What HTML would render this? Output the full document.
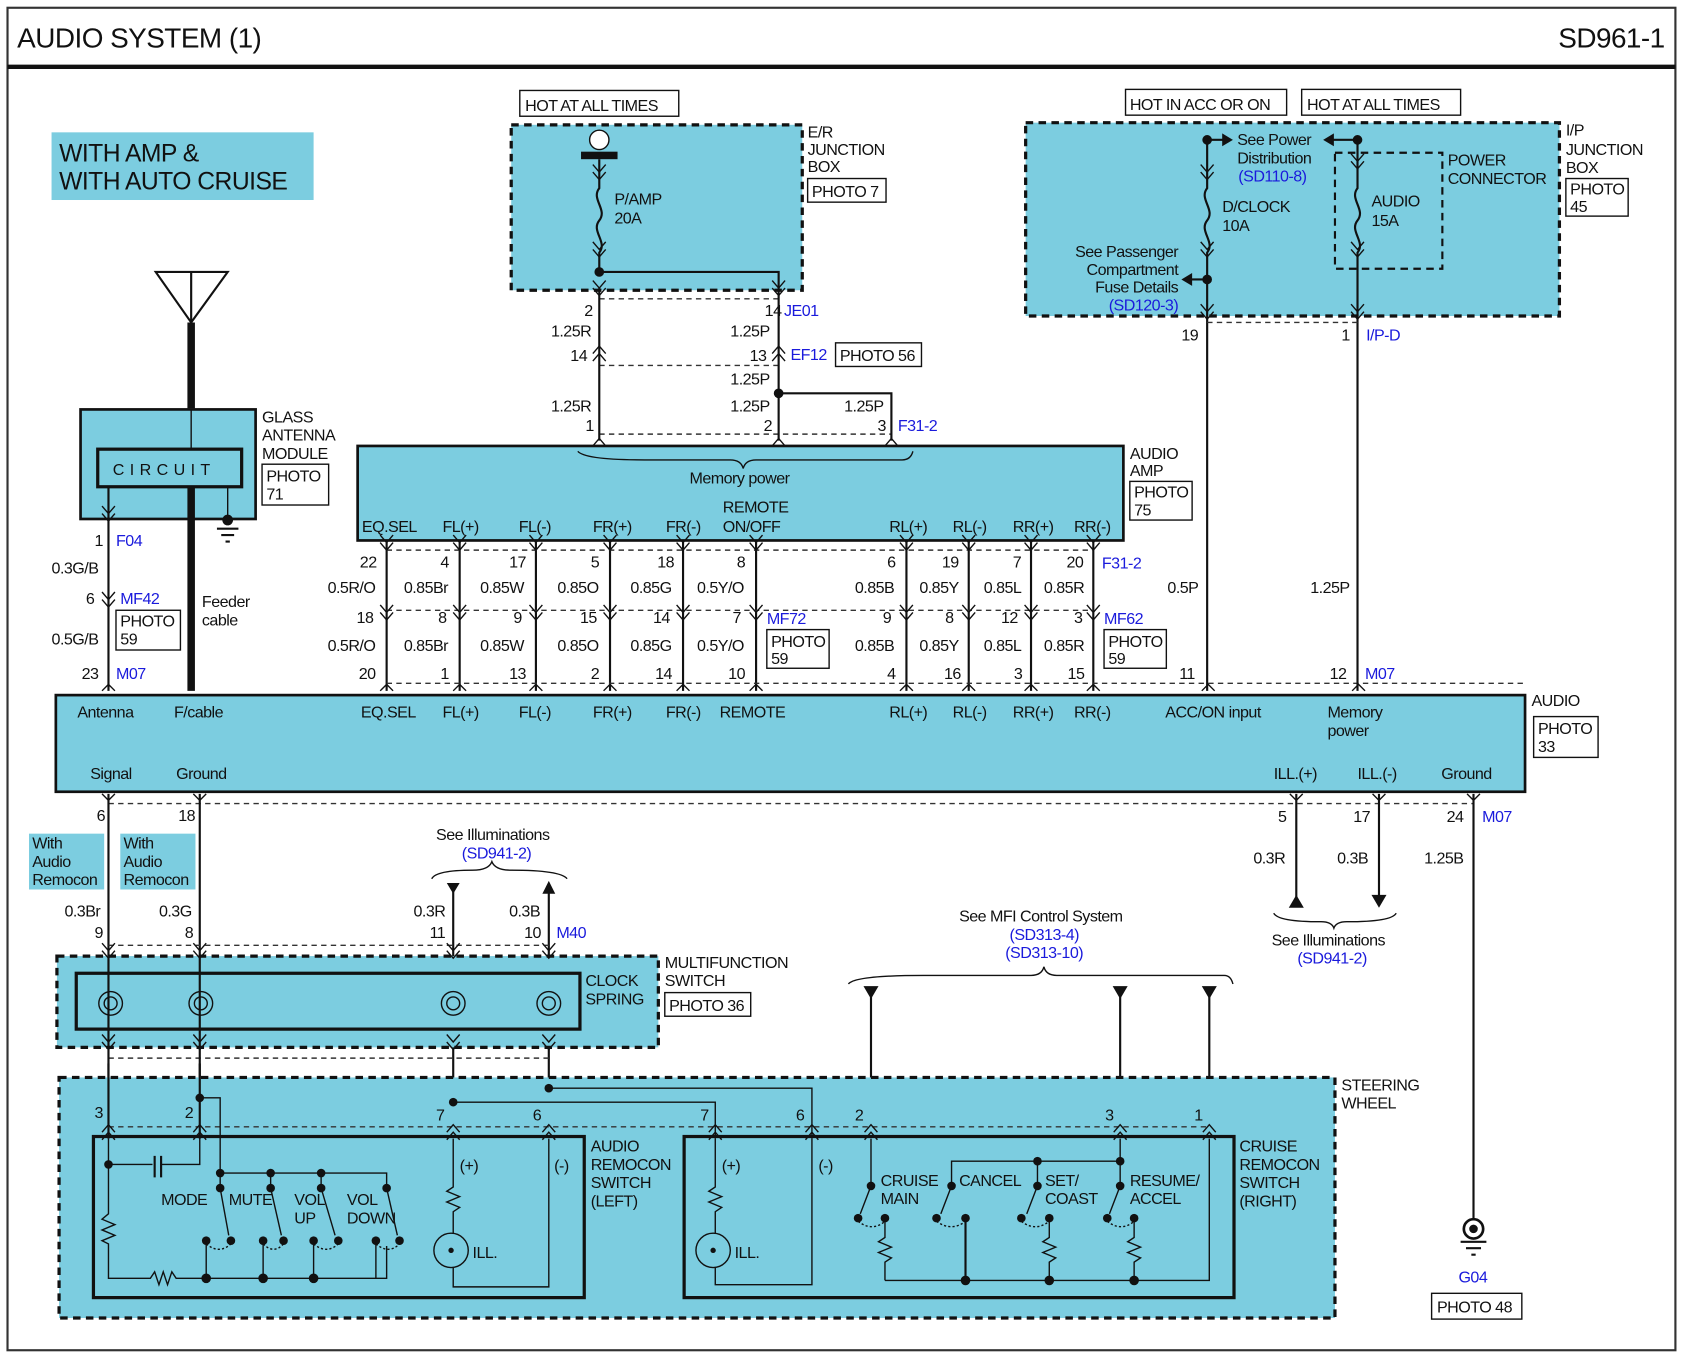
<!DOCTYPE html>
<html><head><meta charset="utf-8"><style>
html,body{margin:0;padding:0;background:#fff}
svg{display:block}
text{font-family:"Liberation Sans",sans-serif;font-size:15px;fill:#111;letter-spacing:-0.5px}
.b{fill:#1a1adc}
.w{stroke:#111;stroke-width:2;fill:none}
.t{stroke:#111;stroke-width:1.3;fill:none}
.d{stroke:#333;stroke-width:1.3;fill:none;stroke-dasharray:5 4}
.bx{fill:#7ccde0;stroke:#111;stroke-width:3;stroke-dasharray:7 5}
.sb{fill:#7ccde0;stroke:#111;stroke-width:2.5}
.pb{fill:#fff;stroke:#111;stroke-width:1.3}
</style></head><body>
<svg width="1684" height="1358" viewBox="0 0 1568 1264" xmlns="http://www.w3.org/2000/svg">
<defs>
<path id="cd" d="M-6 -7 L0 0 L6 -7 M-6 0 L0 7 L6 0" stroke="#111" stroke-width="1.3" fill="none"/>
<path id="cu" d="M-6 7 L0 0 L6 7 M-6 14 L0 7 L6 14" stroke="#111" stroke-width="1.3" fill="none"/>
</defs>
<rect x="7" y="7" width="1553" height="1250" fill="none" stroke="#333" stroke-width="2"/>
<text x="16" y="44" style="font-size:26px">AUDIO SYSTEM (1)</text>
<text x="1550" y="44" text-anchor="end" style="font-size:26px">SD961-1</text>
<line x1="7" y1="62" x2="1560" y2="62" stroke="#111" stroke-width="4"/>
<rect x="48" y="123" width="244" height="63" fill="#7ccde0"/>
<text x="55" y="150" style="font-size:23px">WITH AMP &amp;</text>
<text x="55" y="176" style="font-size:23px">WITH AUTO CRUISE</text>

<!-- antenna -->
<path d="M145 253 H212 L178 300 Z M178 253 V300" class="w" stroke-width="3"/>
<line x1="178" y1="300" x2="178" y2="380" stroke="#111" stroke-width="7"/>
<rect x="75" y="381" width="163" height="102" class="sb"/>
<rect x="91" y="418" width="134" height="35" fill="none" stroke="#111" stroke-width="3"/>
<text x="105" y="442" style="letter-spacing:5px">CIRCUIT</text>
<line x1="178" y1="381" x2="178" y2="418" class="t"/>
<line x1="101" y1="453" x2="101" y2="643" class="w"/>
<line x1="178" y1="453" x2="178" y2="643" stroke="#111" stroke-width="7"/>
<line x1="212" y1="453" x2="212" y2="480" class="t"/>
<circle cx="212" cy="484" r="5" fill="#111"/><path d="M202 492 H222 M206 498 H218 M210 504 H214" class="w"/>
<use href="#cd" x="101" y="478"/>
<text x="244" y="393">GLASS</text><text x="244" y="410">ANTENNA</text><text x="244" y="427">MODULE</text>
<rect x="244" y="432" width="62" height="38" class="pb"/><text x="248" y="448">PHOTO</text><text x="248" y="465">71</text>
<text x="88" y="508">1</text><text x="108" y="508" class="b">F04</text>
<text x="48" y="534">0.3G/B</text>
<use href="#cd" x="101" y="558"/>
<text x="80" y="562">6</text><text x="112" y="562" class="b">MF42</text>
<rect x="108" y="568" width="60" height="37" class="pb"/><text x="112" y="583">PHOTO</text><text x="112" y="600">59</text>
<text x="48" y="600">0.5G/B</text>
<text x="188" y="565">Feeder</text><text x="188" y="582">cable</text>
<text x="76" y="632">23</text><text x="108" y="632" class="b">M07</text>
<path d="M95 643 L101 637 L107 643" class="t"/>

<!-- E/R junction box -->
<rect x="484" y="84" width="148" height="24" class="pb"/><text x="489" y="103">HOT AT ALL TIMES</text>
<rect x="476" y="116" width="271" height="154" class="bx"/>
<circle cx="558" cy="130" r="9" fill="#fff" stroke="#111" stroke-width="1.3"/>
<rect x="541" y="141" width="34" height="7" fill="#111"/>
<path d="M558 148 V175 C550 185 566 195 558 205 C550 215 566 225 558 235 V253 H725 V268" class="w"/>
<use href="#cd" x="558" y="160"/><use href="#cd" x="558" y="232"/>
<circle cx="558" cy="253" r="4.5" fill="#111"/>
<text x="572" y="190">P/AMP</text><text x="572" y="208">20A</text>
<text x="752" y="128">E/R</text><text x="752" y="144">JUNCTION</text><text x="752" y="160">BOX</text>
<rect x="752" y="166" width="73" height="22" class="pb"/><text x="756" y="183">PHOTO 7</text>
<use href="#cd" x="558" y="268"/><use href="#cd" x="725" y="268"/>
<path d="M558 278 H725 M558 340 H725 M558 404 H830" class="d"/>
<line x1="558" y1="268" x2="558" y2="410" class="w"/>
<line x1="725" y1="268" x2="725" y2="410" class="w"/>
<path d="M725 366 H830 V410" class="w"/><circle cx="725" cy="366" r="4.5" fill="#111"/>
<text x="544" y="294">2</text><text x="712" y="294">14</text><text x="730" y="294" class="b">JE01</text>
<text x="513" y="313">1.25R</text><text x="680" y="313">1.25P</text>
<use href="#cu" x="558" y="322"/><use href="#cu" x="725" y="322"/>
<text x="531" y="336">14</text><text x="698" y="336">13</text><text x="736" y="335" class="b">EF12</text>
<rect x="778" y="319" width="80" height="22" class="pb"/><text x="782" y="336">PHOTO 56</text>
<text x="680" y="358">1.25P</text>
<text x="513" y="383">1.25R</text><text x="680" y="383">1.25P</text><text x="786" y="383">1.25P</text>
<text x="545" y="401">1</text><text x="711" y="401">2</text><text x="817" y="401">3</text><text x="836" y="401" class="b">F31-2</text>
<path d="M552 415 L558 408 L564 415 M719 415 L725 408 L731 415 M824 415 L830 408 L836 415" class="t"/>

<!-- Audio amp -->
<rect x="333" y="415" width="713" height="88" class="sb"/>
<path d="M538 420 Q545 428 600 428 H680 Q690 428 692 436 Q694 428 704 428 H840 Q848 428 850 420" class="t"/>
<text x="642" y="450">Memory power</text>
<text x="1052" y="427">AUDIO</text><text x="1052" y="443">AMP</text>
<rect x="1052" y="448" width="58" height="36" class="pb"/><text x="1056" y="463">PHOTO</text><text x="1056" y="480">75</text>
<text x="337" y="495">EQ.SEL</text><text x="412" y="495">FL(+)</text><text x="483" y="495">FL(-)</text>
<text x="552" y="495">FR(+)</text><text x="620" y="495">FR(-)</text>
<text x="673" y="477">REMOTE</text><text x="673" y="495">ON/OFF</text>
<text x="828" y="495">RL(+)</text><text x="887" y="495">RL(-)</text><text x="943" y="495">RR(+)</text><text x="1000" y="495">RR(-)</text>

<!-- amp->audio wires -->
<g class="w">
<path d="M360 503V643M428 503V643M499 503V643M568 503V643M636 503V643M704 503V643M844 503V643M902 503V643M960 503V643M1018 503V643"/>
</g>
<path d="M360 512 H1018 M360 568 H1018 M360 636 H1420" class="d"/>
<g>
<use href="#cd" x="360" y="505"/><use href="#cd" x="428" y="505"/><use href="#cd" x="499" y="505"/><use href="#cd" x="568" y="505"/><use href="#cd" x="636" y="505"/><use href="#cd" x="704" y="505"/><use href="#cd" x="844" y="505"/><use href="#cd" x="902" y="505"/><use href="#cd" x="960" y="505"/><use href="#cd" x="1018" y="505"/>
<use href="#cd" x="360" y="570"/><use href="#cd" x="428" y="570"/><use href="#cd" x="499" y="570"/><use href="#cd" x="568" y="570"/><use href="#cd" x="636" y="570"/><use href="#cd" x="704" y="570"/><use href="#cd" x="844" y="570"/><use href="#cd" x="902" y="570"/><use href="#cd" x="960" y="570"/><use href="#cd" x="1018" y="570"/>
</g>
<text x="335" y="528">22</text><text x="410" y="528">4</text><text x="474" y="528">17</text><text x="550" y="528">5</text><text x="612" y="528">18</text><text x="686" y="528">8</text><text x="826" y="528">6</text><text x="877" y="528">19</text><text x="943" y="528">7</text><text x="993" y="528">20</text><text x="1026" y="529" class="b">F31-2</text>
<text x="305" y="552">0.5R/O</text><text x="376" y="552">0.85Br</text><text x="447" y="552">0.85W</text><text x="519" y="552">0.85O</text><text x="587" y="552">0.85G</text><text x="649" y="552">0.5Y/O</text><text x="796" y="552">0.85B</text><text x="856" y="552">0.85Y</text><text x="916" y="552">0.85L</text><text x="972" y="552">0.85R</text>
<text x="332" y="580">18</text><text x="408" y="580">8</text><text x="478" y="580">9</text><text x="540" y="580">15</text><text x="608" y="580">14</text><text x="682" y="580">7</text><text x="714" y="581" class="b">MF72</text><text x="822" y="580">9</text><text x="880" y="580">8</text><text x="932" y="580">12</text><text x="1000" y="580">3</text><text x="1028" y="581" class="b">MF62</text>
<rect x="714" y="586" width="58" height="36" class="pb"/><text x="718" y="602">PHOTO</text><text x="718" y="618">59</text>
<rect x="1028" y="586" width="58" height="36" class="pb"/><text x="1032" y="602">PHOTO</text><text x="1032" y="618">59</text>
<text x="305" y="606">0.5R/O</text><text x="376" y="606">0.85Br</text><text x="447" y="606">0.85W</text><text x="519" y="606">0.85O</text><text x="587" y="606">0.85G</text><text x="649" y="606">0.5Y/O</text><text x="796" y="606">0.85B</text><text x="856" y="606">0.85Y</text><text x="916" y="606">0.85L</text><text x="972" y="606">0.85R</text>
<text x="334" y="632">20</text><text x="410" y="632">1</text><text x="474" y="632">13</text><text x="550" y="632">2</text><text x="610" y="632">14</text><text x="678" y="632">10</text><text x="826" y="632">4</text><text x="879" y="632">16</text><text x="944" y="632">3</text><text x="994" y="632">15</text>
<text x="1098" y="632">11</text><text x="1238" y="632">12</text><text x="1271" y="632" class="b">M07</text>
<path d="M354 643L360 637L366 643M422 643L428 637L434 643M493 643L499 637L505 643M562 643L568 637L574 643M630 643L636 637L642 643M698 643L704 637L710 643M838 643L844 637L850 643M896 643L902 637L908 643M954 643L960 637L966 643M1012 643L1018 637L1024 643M1119 643L1125 637L1131 643M1259 643L1265 637L1271 643" class="t"/>

<!-- I/P junction box -->
<rect x="1048" y="83" width="150" height="24" class="pb"/><text x="1052" y="102">HOT IN ACC OR ON</text>
<rect x="1212" y="83" width="148" height="24" class="pb"/><text x="1217" y="102">HOT AT ALL TIMES</text>
<rect x="955" y="114" width="497" height="180" class="bx"/>
<rect x="1243" y="142" width="100" height="108" fill="none" stroke="#111" stroke-width="2" stroke-dasharray="7 5"/>
<path d="M1124 130 V175 C1116 185 1132 195 1124 205 C1116 215 1132 225 1124 235 V643" class="w"/>
<path d="M1264 130 V175 C1256 185 1272 195 1264 205 C1256 215 1272 225 1264 235 V643" class="w"/>
<circle cx="1124" cy="130" r="4.5" fill="#111"/><circle cx="1264" cy="130" r="4.5" fill="#111"/><circle cx="1124" cy="260" r="4.5" fill="#111"/>
<path d="M1124 130 H1140 M1264 130 H1240 M1124 260 H1108" class="w"/>
<path d="M1148 130 L1138 124 V136Z M1232 130 L1242 124 V136Z M1100 260 L1110 254 V266Z" fill="#111"/>
<use href="#cd" x="1124" y="160"/><use href="#cd" x="1124" y="232"/><use href="#cd" x="1264" y="150"/><use href="#cd" x="1264" y="232"/>
<use href="#cd" x="1124" y="290"/><use href="#cd" x="1264" y="290"/>
<path d="M1124 300 H1264" class="d"/>
<text x="1152" y="135">See Power</text><text x="1152" y="152">Distribution</text><text x="1153" y="169" class="b">(SD110-8)</text>
<text x="1138" y="197">D/CLOCK</text><text x="1138" y="215">10A</text>
<text x="1277" y="192">AUDIO</text><text x="1277" y="210">15A</text>
<text x="1348" y="154">POWER</text><text x="1348" y="171">CONNECTOR</text>
<text x="1458" y="126">I/P</text><text x="1458" y="144">JUNCTION</text><text x="1458" y="161">BOX</text>
<rect x="1458" y="166" width="58" height="35" class="pb"/><text x="1462" y="181">PHOTO</text><text x="1462" y="197">45</text>
<text x="1097" y="239" text-anchor="end">See Passenger</text><text x="1097" y="256" text-anchor="end">Compartment</text><text x="1097" y="272" text-anchor="end">Fuse Details</text><text x="1097" y="289" text-anchor="end" class="b">(SD120-3)</text>
<text x="1100" y="317">19</text><text x="1249" y="317">1</text><text x="1272" y="317" class="b">I/P-D</text>
<text x="1087" y="552">0.5P</text><text x="1220" y="552">1.25P</text>

<!-- Audio -->
<rect x="52" y="647" width="1368" height="90" class="sb"/>
<text x="72" y="668">Antenna</text><text x="162" y="668">F/cable</text><text x="336" y="668">EQ.SEL</text><text x="412" y="668">FL(+)</text><text x="483" y="668">FL(-)</text><text x="552" y="668">FR(+)</text><text x="620" y="668">FR(-)</text><text x="670" y="668">REMOTE</text><text x="828" y="668">RL(+)</text><text x="887" y="668">RL(-)</text><text x="943" y="668">RR(+)</text><text x="1000" y="668">RR(-)</text><text x="1085" y="668">ACC/ON input</text><text x="1236" y="668">Memory</text><text x="1236" y="685">power</text>
<text x="84" y="725">Signal</text><text x="164" y="725">Ground</text><text x="1186" y="725">ILL.(+)</text><text x="1264" y="725">ILL.(-)</text><text x="1342" y="725">Ground</text>
<text x="1426" y="657">AUDIO</text>
<rect x="1428" y="667" width="60" height="38" class="pb"/><text x="1432" y="683">PHOTO</text><text x="1432" y="700">33</text>
<path d="M95 739L101 745L107 739M180 739L186 745L192 739M1201 739L1207 745L1213 739M1278 739L1284 745L1290 739M1366 739L1372 745L1378 739" class="t"/>
<path d="M101 748 H1372" class="d"/>
<path d="M101 739 V890 M186 739 V890" class="w"/>
<text x="90" y="764">6</text><text x="166" y="764">18</text><text x="1190" y="765">5</text><text x="1260" y="765">17</text><text x="1347" y="765">24</text><text x="1380" y="765" class="b">M07</text>
<rect x="27" y="776" width="70" height="52" fill="#7ccde0"/><text x="30" y="790">With</text><text x="30" y="807">Audio</text><text x="30" y="824">Remocon</text>
<rect x="112" y="776" width="70" height="52" fill="#7ccde0"/><text x="115" y="790">With</text><text x="115" y="807">Audio</text><text x="115" y="824">Remocon</text>
<path d="M1207 739 V838 M1284 739 V838" class="w"/>
<path d="M1200 845 L1207 833 L1214 845Z M1277 833 L1284 845 L1291 833Z" fill="#111"/>
<text x="1167" y="804">0.3R</text><text x="1245" y="804">0.3B</text>
<path d="M1186 850 Q1190 858 1230 858 Q1240 858 1242 864 Q1244 858 1254 858 Q1296 858 1300 850" class="t"/>
<text x="1184" y="880">See Illuminations</text><text x="1208" y="897" class="b">(SD941-2)</text>
<path d="M1372 739 V1135" class="w"/>
<text x="1326" y="804">1.25B</text>
<circle cx="1372" cy="1144" r="9" fill="#fff" stroke="#111" stroke-width="2.5"/><circle cx="1372" cy="1144" r="4" fill="#111"/>
<path d="M1360 1156 H1384 M1365 1162 H1379 M1370 1168 H1374" class="w"/>
<text x="1358" y="1194" class="b">G04</text>
<rect x="1333" y="1204" width="84" height="24" class="pb"/><text x="1338" y="1222">PHOTO 48</text>

<!-- illum up-left -->
<text x="406" y="782">See Illuminations</text><text x="430" y="799" class="b">(SD941-2)</text>
<path d="M402 818 Q406 810 440 810 Q455 810 458 802 Q461 810 476 810 Q522 810 528 818" class="t"/>
<path d="M416 822 L422 832 L428 822Z M505 832 L511 820 L517 832Z" fill="#111"/>
<path d="M422 830 V1060 M511 830 V1060" class="w"/>
<text x="385" y="853">0.3R</text><text x="474" y="853">0.3B</text>
<text x="60" y="853">0.3Br</text><text x="148" y="853">0.3G</text>
<text x="88" y="873">9</text><text x="172" y="873">8</text><text x="400" y="873">11</text><text x="488" y="873">10</text><text x="518" y="873" class="b">M40</text>

<!-- multifunction -->
<rect x="53" y="890" width="560" height="85" class="bx"/>
<path d="M101 880 H511 M101 985 H511" class="d"/>
<rect x="71" y="906" width="469" height="52" fill="none" stroke="#111" stroke-width="3"/>
<g class="t">
<circle cx="103" cy="934" r="11"/><circle cx="103" cy="934" r="6"/>
<circle cx="187" cy="934" r="11"/><circle cx="187" cy="934" r="6"/>
<circle cx="422" cy="934" r="11"/><circle cx="422" cy="934" r="6"/>
<circle cx="511" cy="934" r="11"/><circle cx="511" cy="934" r="6"/>
</g>
<path d="M101 890 V1060 M186 890 V1060" class="w"/>
<use href="#cd" x="101" y="885"/><use href="#cd" x="186" y="885"/><use href="#cd" x="422" y="885"/><use href="#cd" x="511" y="885"/>
<use href="#cd" x="101" y="970"/><use href="#cd" x="186" y="970"/><use href="#cd" x="422" y="970"/><use href="#cd" x="511" y="970"/>
<text x="545" y="918">CLOCK</text><text x="545" y="935">SPRING</text>
<text x="619" y="901">MULTIFUNCTION</text><text x="619" y="918">SWITCH</text>
<rect x="619" y="924" width="80" height="22" class="pb"/><text x="623" y="941">PHOTO 36</text>

<!-- MFI -->
<text x="893" y="858">See MFI Control System</text><text x="940" y="875" class="b">(SD313-4)</text><text x="936" y="892" class="b">(SD313-10)</text>
<path d="M790 916 Q796 908 860 908 H960 Q970 908 972 900 Q974 908 984 908 H1140 Q1146 908 1148 916" class="t"/>
<path d="M804 918 L811 930 L818 918Z M1036 918 L1043 930 L1050 918Z M1119 918 L1126 930 L1133 918Z" fill="#111"/>
<path d="M811 928 V1060 M1043 928 V1060 M1126 928 V1060" class="w"/>

<!-- steering wheel -->
<rect x="55" y="1003" width="1188" height="224" class="bx"/>
<path d="M101 990 V1060 M186 990 V1060" class="w"/>
<text x="1249" y="1015">STEERING</text><text x="1249" y="1032">WHEEL</text>
<path d="M422 1026 H666 V1060 M511 1013 H756 V1060" class="t"/>
<circle cx="422" cy="1026" r="4" fill="#111"/><circle cx="511" cy="1013" r="4" fill="#111"/>
<path d="M101 1049 H1126" class="d"/>
<text x="88" y="1041">3</text><text x="172" y="1041">2</text><text x="406" y="1043">7</text><text x="496" y="1043">6</text><text x="652" y="1043">7</text><text x="741" y="1043">6</text><text x="796" y="1043">2</text><text x="1029" y="1043">3</text><text x="1112" y="1043">1</text>
<g><use href="#cu" x="101" y="1047"/><use href="#cu" x="186" y="1047"/><use href="#cu" x="422" y="1047"/><use href="#cu" x="511" y="1047"/><use href="#cu" x="666" y="1047"/><use href="#cu" x="756" y="1047"/><use href="#cu" x="811" y="1047"/><use href="#cu" x="1043" y="1047"/><use href="#cu" x="1126" y="1047"/></g>

<!-- audio remocon left -->
<rect x="87" y="1058" width="457" height="150" fill="none" stroke="#111" stroke-width="3"/>
<path d="M186 1022 V1084 H150 M142 1084 H103 M101 1060 V1130 L95 1135 L107 1140 L95 1145 L107 1150 L95 1155 L101 1158 V1190 H140 L144 1184 L148 1196 L152 1184 L156 1196 L160 1184 L164 1190 H360 V1160 M186 1022 H205 V1092" class="t"/>
<path d="M144 1076 V1096 M150 1076 V1096" class="w"/>
<circle cx="101" cy="1084" r="4" fill="#111"/><circle cx="186" cy="1022" r="4" fill="#111"/>
<path d="M205 1092 H360 V1106 M205 1092 V1106 M252 1092 V1106 M299 1092 V1106" class="t"/>
<g fill="#111"><circle cx="205" cy="1092" r="4"/><circle cx="252" cy="1092" r="4"/><circle cx="299" cy="1092" r="4"/><circle cx="360" cy="1106" r="4"/>
<circle cx="205" cy="1106" r="4"/><circle cx="252" cy="1106" r="4"/><circle cx="299" cy="1106" r="4"/>
<circle cx="192" cy="1155" r="4"/><circle cx="215" cy="1155" r="4"/><circle cx="245" cy="1155" r="4"/><circle cx="264" cy="1155" r="4"/><circle cx="292" cy="1155" r="4"/><circle cx="315" cy="1155" r="4"/><circle cx="350" cy="1155" r="4"/><circle cx="372" cy="1155" r="4"/>
<circle cx="192" cy="1190" r="4.5"/><circle cx="245" cy="1190" r="4.5"/><circle cx="292" cy="1190" r="4.5"/></g>
<path d="M205 1106 L213 1150 M252 1106 L262 1150 M299 1106 L312 1150 M360 1106 L370 1150 M192 1155 V1190 M245 1155 V1190 M292 1155 V1190 M350 1155 V1190" class="t"/>
<path d="M192 1158 Q204 1168 215 1158 M245 1158 Q255 1168 264 1158 M292 1158 Q304 1168 315 1158 M350 1158 Q362 1168 372 1158" class="t" stroke-dasharray="2 2"/>
<text x="150" y="1122">MODE</text><text x="213" y="1122">MUTE</text><text x="274" y="1122">VOL</text><text x="274" y="1139">UP</text><text x="323" y="1122">VOL</text><text x="323" y="1139">DOWN</text>
<path d="M422 1060 V1105 L416 1109 L428 1114 L416 1119 L428 1124 L422 1128 V1148 M422 1180 V1198 H511 V1060" class="t"/>
<circle cx="420" cy="1164" r="16" class="t"/><circle cx="420" cy="1164" r="2.5" fill="#111"/>
<text x="428" y="1090">(+)</text><text x="516" y="1090">(-)</text><text x="440" y="1171">ILL.</text>
<text x="550" y="1072">AUDIO</text><text x="550" y="1089">REMOCON</text><text x="550" y="1106">SWITCH</text><text x="550" y="1123">(LEFT)</text>

<!-- cruise remocon right -->
<rect x="637" y="1058" width="512" height="150" fill="none" stroke="#111" stroke-width="3"/>
<path d="M666 1060 V1105 L660 1109 L672 1114 L660 1119 L672 1124 L666 1128 V1148 M666 1180 V1196 H756 V1060" class="t"/>
<circle cx="664" cy="1164" r="16" class="t"/><circle cx="664" cy="1164" r="2.5" fill="#111"/>
<text x="672" y="1090">(+)</text><text x="762" y="1090">(-)</text><text x="684" y="1171">ILL.</text>
<path d="M811 1060 V1104 L801 1130 M886 1104 V1081 H1043 M966 1081 V1104 M1043 1060 V1104 M886 1104 L876 1130 M966 1104 L956 1130 M1043 1104 L1033 1130 M1126 1060 V1192 H824" class="t"/>
<g fill="#111"><circle cx="811" cy="1104" r="4"/><circle cx="886" cy="1104" r="4"/><circle cx="966" cy="1104" r="4"/><circle cx="1043" cy="1104" r="4"/><circle cx="966" cy="1081" r="4"/><circle cx="1043" cy="1081" r="4"/>
<circle cx="799" cy="1134" r="4"/><circle cx="824" cy="1134" r="4"/><circle cx="872" cy="1134" r="4"/><circle cx="899" cy="1134" r="4"/><circle cx="951" cy="1134" r="4"/><circle cx="977" cy="1134" r="4"/><circle cx="1031" cy="1134" r="4"/><circle cx="1056" cy="1134" r="4"/>
<circle cx="899" cy="1192" r="4.5"/><circle cx="977" cy="1192" r="4.5"/><circle cx="1056" cy="1192" r="4.5"/></g>
<path d="M824 1134 V1152 L818 1156 L830 1161 L818 1166 L830 1171 L824 1175 V1192 M977 1134 V1152 L971 1156 L983 1161 L971 1166 L983 1171 L977 1175 V1192 M1056 1134 V1152 L1050 1156 L1062 1161 L1050 1166 L1062 1171 L1056 1175 V1192" class="t"/>
<path d="M899 1134 V1192" class="w"/>
<path d="M799 1137 Q812 1147 824 1137 M872 1137 Q886 1147 899 1137 M951 1137 Q964 1147 977 1137 M1031 1137 Q1044 1147 1056 1137" class="t" stroke-dasharray="2 2"/>
<text x="820" y="1104">CRUISE</text><text x="820" y="1121">MAIN</text><text x="893" y="1104">CANCEL</text><text x="973" y="1104">SET/</text><text x="973" y="1121">COAST</text><text x="1052" y="1104">RESUME/</text><text x="1052" y="1121">ACCEL</text>
<text x="1154" y="1072">CRUISE</text><text x="1154" y="1089">REMOCON</text><text x="1154" y="1106">SWITCH</text><text x="1154" y="1123">(RIGHT)</text>
</svg>
</body></html>
